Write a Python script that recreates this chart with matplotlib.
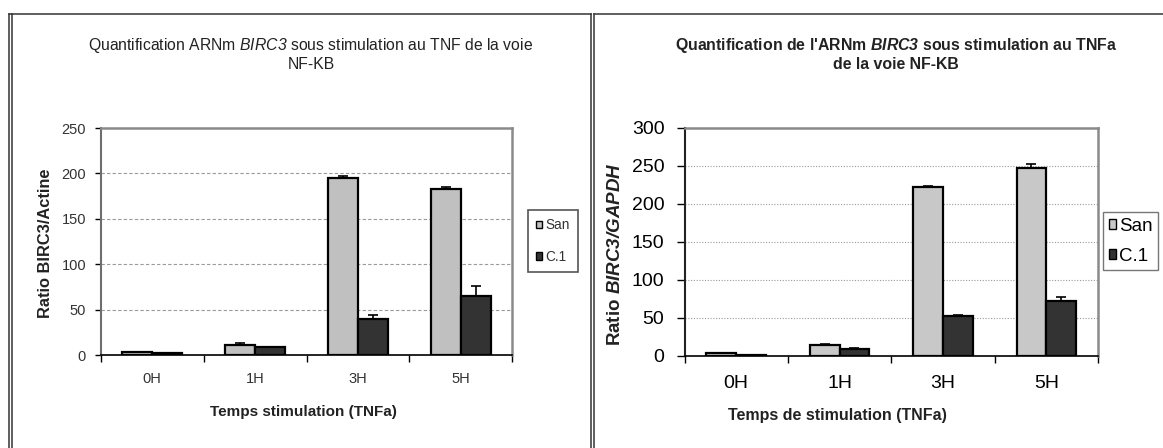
import matplotlib
matplotlib.use("Agg")
import matplotlib.pyplot as plt
from matplotlib import font_manager
from matplotlib.patches import Patch
from matplotlib.lines import Line2D
import numpy as np

# ---- data ----
times = ["0H", "1H", "3H", "5H"]
series = ["San", "C.1"]

actine_san = [3, 11.5, 194.5, 183]
actine_san_err = [0.5, 1.5, 2.5, 2.5]
actine_c1 = [2, 8.5, 40, 64.5]
actine_c1_err = [0.3, 0.5, 4.5, 11]

gapdh_san = [3.5, 14.5, 222.5, 247.5]
gapdh_san_err = [0.5, 1.0, 1.5, 4.5]
gapdh_c1 = [1.5, 9.5, 52.5, 72.5]
gapdh_c1_err = [0.3, 1.2, 2.0, 4.5]

W, H = 1163, 448
names = {f.name for f in font_manager.fontManager.ttflist}
NARROW = "Liberation Sans Narrow" if "Liberation Sans Narrow" in names else "Liberation Sans"
SANS = "Liberation Sans"

plt.rcParams["font.family"] = [SANS, "DejaVu Sans"]
plt.rcParams["mathtext.fontset"] = "custom"
# only gene names are set as math text, so all math fonts are italic
plt.rcParams["mathtext.it"] = NARROW + ":italic"
plt.rcParams["mathtext.rm"] = NARROW + ":italic"
plt.rcParams["mathtext.bf"] = SANS + ":bold:italic"


def fx(x):
    return x / W


def fy(y):
    return 1 - y / H


def axes_px(fig, x0, y0, x1, y1):
    return fig.add_axes([fx(x0), fy(y1), (x1 - x0) / W, (y1 - y0) / H])


def draw_bars(ax, san, san_err, c1, c1_err, light, grid_ls, left_spine):
    x = np.arange(len(times))
    w = 0.288
    ax.bar(x - w / 2, san, w, color=light, edgecolor="black", linewidth=1.6, zorder=3,
           yerr=[np.zeros(len(san)), san_err], error_kw=dict(ecolor="black", elinewidth=1.2,
                                                             capsize=3.5, capthick=1.2, zorder=4))
    ax.bar(x + w / 2, c1, w, color="#333333", edgecolor="black", linewidth=1.6, zorder=3,
           yerr=[np.zeros(len(c1)), c1_err], error_kw=dict(ecolor="black", elinewidth=1.2,
                                                           capsize=3.5, capthick=1.2, zorder=4))
    ax.set_xlim(-0.5, len(times) - 0.5)
    ax.set_xticks(x)
    ax.set_xticklabels(times)
    ax.set_xticks(np.arange(len(times) + 1) - 0.5, minor=True)
    ax.tick_params(axis="x", which="major", length=0)
    ax.tick_params(axis="x", which="minor", length=5, width=1, direction="out")
    ax.set_axisbelow(True)
    ax.yaxis.grid(True, color="#9a9a9a", linestyle=grid_ls, linewidth=0.8)
    for s in ("top", "right"):
        ax.spines[s].set_color("#8a8a8a")
        ax.spines[s].set_linewidth(1.8)
    ax.spines["left"].set_color(left_spine)
    ax.spines["left"].set_linewidth(1.5)
    ax.spines["bottom"].set_color("black")
    ax.spines["bottom"].set_linewidth(1.2)


fig = plt.figure(figsize=(W / 100, H / 100), dpi=100, facecolor="white")

# ---- left panel (Actine) ----
ax1 = axes_px(fig, 100.6, 128, 512.4, 355)
draw_bars(ax1, actine_san, actine_san_err, actine_c1, actine_c1_err, "#c0c0c0", (0, (3, 2)), "#6e6e6e")
ax1.set_ylim(0, 250)
ax1.set_yticks(range(0, 251, 50))
ax1.tick_params(axis="y", length=4, width=1, pad=6.5, labelcolor="#333333", labelsize=10.5)
ax1.tick_params(axis="x", which="major", pad=12, labelcolor="#333333", labelsize=10.5)

fig.text(fx(311), fy(54), "Quantification ARNm $\\mathit{BIRC3}$ sous stimulation au TNF de la voie\nNF-KB",
         ha="center", va="center", fontsize=11.3, family=NARROW, linespacing=1.2, color="#222222")
fig.text(fx(45.5), fy(243), "Ratio BIRC3/Actine", rotation=90, ha="center", va="center",
         fontsize=11.8, fontweight="bold", family=SANS, color="#222222")
fig.text(fx(303), fy(412), "Temps stimulation (TNFa)", ha="center", va="center",
         fontsize=11, fontweight="bold", family=NARROW, color="#222222")

leg_handles = [Patch(facecolor="#c0c0c0", edgecolor="black", linewidth=1),
               Patch(facecolor="#333333", edgecolor="black", linewidth=1)]
leg1 = fig.legend(leg_handles, series, loc="upper left", bbox_to_anchor=(fx(528), fy(210)),
                  bbox_transform=fig.transFigure, fancybox=False, framealpha=1,
                  edgecolor="#555555", borderpad=0.6, borderaxespad=0, handlelength=0.45,
                  handleheight=0.45, handletextpad=0.2, labelspacing=1.3,
                  prop=dict(family=NARROW, size=9.8))
leg1.get_frame().set_linewidth(1.2)
for t in leg1.get_texts():
    t.set_color("#333333")

# ---- right panel (GAPDH) ----
ax2 = axes_px(fig, 684.5, 128, 1098, 356)
draw_bars(ax2, gapdh_san, gapdh_san_err, gapdh_c1, gapdh_c1_err, "#c8c8c8", (0, (1, 1.5)), "#222222")
ax2.set_ylim(0, 300)
ax2.set_yticks(range(0, 301, 50))
ax2.tick_params(axis="y", length=6, width=1, pad=8.5, labelsize=14)
ax2.tick_params(axis="x", which="major", pad=14, labelsize=14)

fig.text(fx(896), fy(54), "Quantification de l'ARNm $\\mathbf{BIRC3}$ sous stimulation au TNFa\nde la voie NF-KB",
         ha="center", va="center", fontsize=11.4, fontweight="bold", family=SANS, linespacing=1.15,
         color="#222222")
fig.text(fx(615), fy(254), "Ratio $\\mathbf{BIRC3/GAPDH}$", rotation=90, ha="center", va="center",
         fontsize=13.5, fontweight="bold", family=SANS, color="#222222")
fig.text(fx(837), fy(415), "Temps de stimulation (TNFa)", ha="center", va="center",
         fontsize=11.5, fontweight="bold", family=SANS, color="#222222")

leg_handles2 = [Patch(facecolor="#c8c8c8", edgecolor="black", linewidth=1),
                Patch(facecolor="#333333", edgecolor="black", linewidth=1)]
leg2 = fig.legend(leg_handles2, series, loc="upper left", bbox_to_anchor=(fx(1103), fy(212)),
                  bbox_transform=fig.transFigure, fancybox=False, framealpha=1,
                  edgecolor="#777777", borderpad=0.3, borderaxespad=0, handlelength=0.4,
                  handleheight=0.4, handletextpad=0.15, labelspacing=0.7,
                  prop=dict(family=SANS, size=13.5))
leg2.get_frame().set_linewidth(1)

# ---- panel frames ----
frame_lines = [
    ((8.5, 8.5), (14, 448)), ((11.5, 11.5), (14, 448)), ((8.5, 591), (14, 14)),
    ((591, 591), (14, 448)), ((594, 594), (14, 448)), ((594, 1163), (14, 14)),
]
for xs, ys in frame_lines:
    fig.add_artist(Line2D([fx(v) for v in xs], [fy(v) for v in ys], color="#333333",
                          linewidth=1.1, transform=fig.transFigure))

fig.savefig("out.png", dpi=100, facecolor="white")
